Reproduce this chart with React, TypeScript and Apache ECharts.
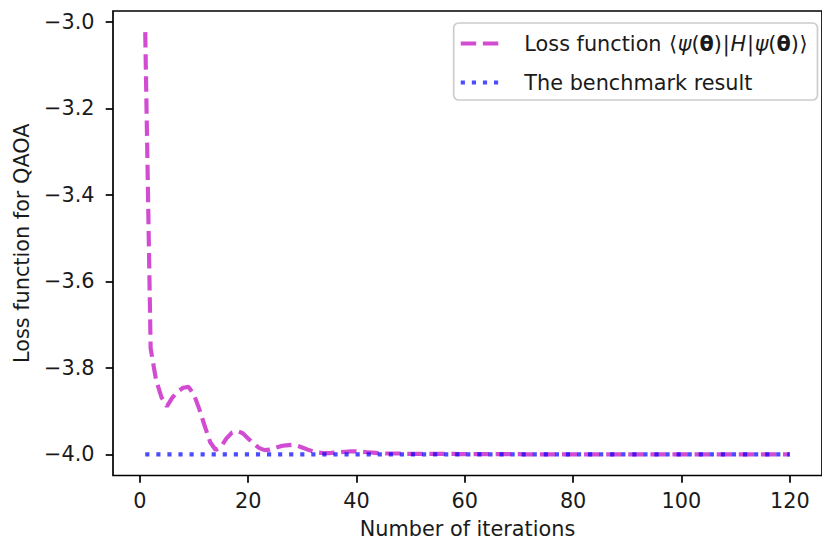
import React, { useEffect, useRef } from 'react';
import * as echarts from 'echarts';

// Iteration numbers (1..120) and loss values
const iterations: number[] = [
  1, 2, 3, 4, 5, 6, 7, 8, 9, 10, 11, 12, 13, 14, 15, 16, 17, 18, 19, 20,
  21, 22, 23, 24, 25, 26, 27, 28, 29, 30, 31, 32, 33, 34, 35, 36, 37, 38, 39, 40,
  41, 42, 43, 44, 45, 46, 47, 48, 49, 50, 51, 52, 53, 54, 55, 56, 57, 58, 59, 60,
  61, 62, 63, 64, 65, 66, 67, 68, 69, 70, 71, 72, 73, 74, 75, 76, 77, 78, 79, 80,
  81, 82, 83, 84, 85, 86, 87, 88, 89, 90, 91, 92, 93, 94, 95, 96, 97, 98, 99, 100,
  101, 102, 103, 104, 105, 106, 107, 108, 109, 110, 111, 112, 113, 114, 115, 116, 117, 118, 119, 120,
];

const lossValues: number[] = [
  -3.0238, -3.755, -3.828, -3.868, -3.889, -3.869, -3.855, -3.846, -3.844, -3.862,
  -3.896, -3.935, -3.972, -3.990, -3.982, -3.963, -3.950, -3.946, -3.951, -3.963,
  -3.975, -3.985, -3.990, -3.989, -3.985, -3.981, -3.979, -3.978, -3.980, -3.984,
  -3.989, -3.993, -3.996, -3.997, -3.997, -3.996, -3.995, -3.994, -3.993, -3.993,
  -3.994, -3.995, -3.996, -3.997, -3.998, -3.998, -3.998, -3.998, -3.999, -3.999,
  -3.999, -3.999, -3.999, -3.999, -3.999, -3.999, -3.999, -3.999, -3.9995, -3.9995,
  -3.9995, -3.9995, -3.9995, -3.9995, -3.9995, -3.9995, -3.9995, -3.9995, -3.9995, -3.9995,
  -3.9998, -3.9998, -3.9998, -3.9998, -3.9998, -3.9998, -3.9998, -3.9998, -3.9998, -3.9998,
  -3.9998, -3.9998, -3.9998, -3.9998, -3.9998, -3.9998, -3.9998, -3.9998, -3.9998, -3.9998,
  -4.0, -4.0, -4.0, -4.0, -4.0, -4.0, -4.0, -4.0, -4.0, -4.0,
  -4.0, -4.0, -4.0, -4.0, -4.0, -4.0, -4.0, -4.0, -4.0, -4.0,
  -4.0, -4.0, -4.0, -4.0, -4.0, -4.0, -4.0, -4.0, -4.0, -4.0,
];

// Benchmark result: constant line from the first to the last iteration
const benchmarkX: number[] = [1, 120];
const benchmarkValues: number[] = [-4.0, -4.0];

const xTicks: number[] = [0, 20, 40, 60, 80, 100, 120];
const yTicks: number[] = [-4.0, -3.8, -3.6, -3.4, -3.2, -3.0];

const lossName = 'Loss function ⟨ψ(θ)|H|ψ(θ)⟩';
const benchName = 'The benchmark result';
const xName = 'Number of iterations';
const yName = 'Loss function for QAOA';

const FONT = 'DejaVu Sans';
const FS = 20.8;
const TXT = '#1a1a1a';
const LOSS_COLOR = 'rgba(191,0,191,0.7)';
const BENCH_COLOR = 'rgba(0,0,255,0.7)';
const LOSS_DASH = [15.4, 6.7];
const BENCH_DASH = [4.17, 6.9];
const LW = 4.17;

export default function App() {
  const ref = useRef<HTMLDivElement>(null);

  useEffect(() => {
    if (!ref.current) return;
    const chart = echarts.init(ref.current, undefined, { renderer: 'svg' });
    const base = { fontFamily: FONT, fontSize: FS, color: TXT, lineHeight: 25 };
    chart.setOption({
      animation: false,
      backgroundColor: '#ffffff',
      grid: {
        left: 113,
        top: 11,
        right: -7.3,
        bottom: 69.5,
        show: true,
        borderColor: '#000',
        borderWidth: 1.7,
        backgroundColor: 'transparent',
        containLabel: false,
      },
      legend: {
        orient: 'vertical',
        right: 4.5,
        top: 23,
        align: 'left',
        itemWidth: 41.6,
        itemHeight: 25,
        itemGap: 14,
        padding: [8, 9, 5, 5],
        backgroundColor: 'rgba(255,255,255,0.8)',
        borderColor: '#cccccc',
        borderWidth: 1.7,
        borderRadius: 5,
        selectedMode: false,
        itemStyle: { opacity: 0 },
        data: [
          {
            name: lossName,
            itemStyle: { opacity: 0 },
            lineStyle: { color: LOSS_COLOR, width: LW, type: LOSS_DASH, cap: 'butt' },
          },
          {
            name: benchName,
            itemStyle: { opacity: 0 },
            lineStyle: { color: BENCH_COLOR, width: LW, type: BENCH_DASH, cap: 'butt' },
          },
        ],
        formatter: (name: string) =>
          name === lossName
            ? '{sp| }{n|Loss function }{br|⟨}{i|ψ}{n|(}{b|θ}{n|)}{bar||}{i|H}{bar||}{i|ψ}{n|(}{b|θ}{n|)}{br|⟩}'
            : '{sp| }{n|The benchmark result}',
        textStyle: {
          ...base,
          rich: {
            sp: { width: 17, fontSize: FS, lineHeight: 25 },
            n: { ...base },
            br: { ...base, padding: [0, 0.75, 0, 0.75] },
            bar: { ...base, padding: [0, 0.75, 0, 0.75] },
            i: { ...base, fontStyle: 'italic' },
            b: { ...base, fontWeight: 'bold' },
          },
        },
      },
      xAxis: {
        type: 'value',
        min: -4.95,
        max: 125.95,
        name: xName,
        nameLocation: 'middle',
        nameGap: 43,
        nameTextStyle: { fontFamily: FONT, fontSize: FS, color: TXT },
        splitLine: { show: false },
        axisLine: { show: false, onZero: false },
        axisTick: {
          show: true,
          inside: false,
          length: 7.3,
          lineStyle: { color: '#000', width: 1.7 },
          customValues: xTicks,
        },
        axisLabel: {
          margin: 14.6,
          fontFamily: FONT,
          fontSize: FS,
          color: TXT,
          customValues: xTicks,
          formatter: (v: number) => String(v),
        },
      },
      yAxis: {
        type: 'value',
        min: -4.0488,
        max: -2.975,
        name: yName,
        nameLocation: 'middle',
        nameGap: 81,
        nameTextStyle: { fontFamily: FONT, fontSize: FS, color: TXT },
        splitLine: { show: false },
        axisLine: { show: false, onZero: false },
        axisTick: {
          show: true,
          inside: false,
          length: 7.3,
          lineStyle: { color: '#000', width: 1.7 },
          customValues: yTicks,
        },
        axisLabel: {
          margin: 18.5,
          fontFamily: FONT,
          fontSize: FS,
          color: TXT,
          customValues: yTicks,
          formatter: (v: number) => v.toFixed(1).replace('-', '\u2212'),
        },
      },
      series: [
        {
          name: lossName,
          type: 'line',
          data: iterations.map((x, i) => [x, lossValues[i]]),
          symbol: 'none',
          showSymbol: false,
          lineStyle: { color: LOSS_COLOR, width: LW, type: LOSS_DASH, cap: 'butt' },
          itemStyle: { color: LOSS_COLOR },
          z: 2,
        },
        {
          name: benchName,
          type: 'line',
          data: benchmarkX.map((x, i) => [x, benchmarkValues[i]]),
          symbol: 'none',
          showSymbol: false,
          lineStyle: { color: BENCH_COLOR, width: LW, type: BENCH_DASH, cap: 'butt' },
          itemStyle: { color: BENCH_COLOR },
          z: 3,
        },
      ],
    });
    return () => chart.dispose();
  }, []);

  return (
    <div
      ref={ref}
      style={{ position: 'absolute', left: 0, top: 0, width: 822, height: 545, background: '#fff' }}
    />
  );
}
